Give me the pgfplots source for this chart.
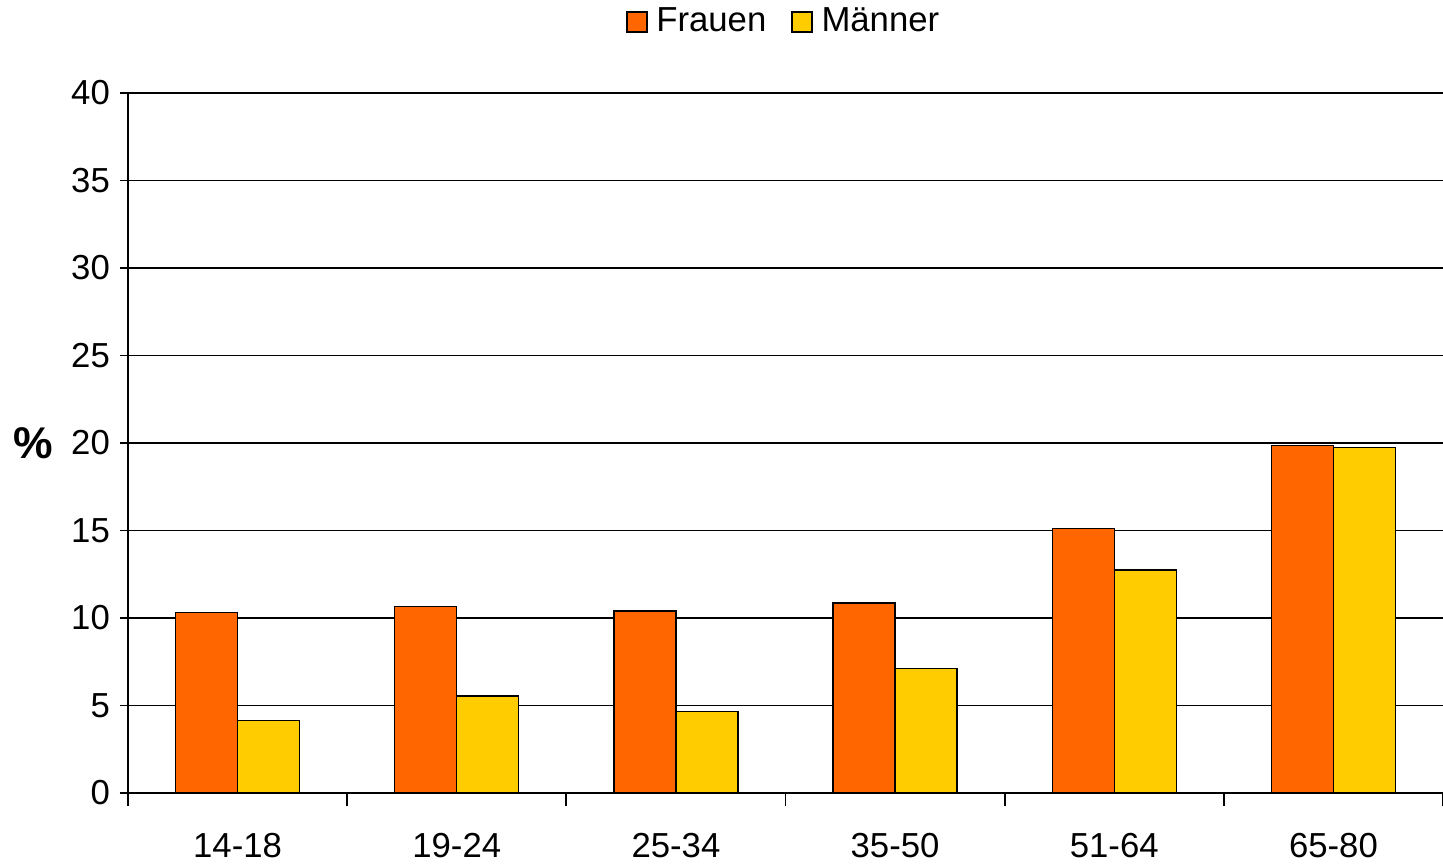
\documentclass[border=0pt]{standalone}
\usepackage{pgfplots}
\pgfplotsset{compat=1.18}
\usepackage{fontspec}
\setmainfont{Liberation Sans}
\definecolor{frauen}{HTML}{FF6600}
\definecolor{maenner}{HTML}{FFCC00}
\begin{document}
\begin{tikzpicture}
\begin{axis}[
  name=ax,
  scale only axis,
  width=473.4pt, height=252pt,
  xmin=-0.5, xmax=5.5, ymin=0, ymax=40,
  ybar=0pt, bar width=0.283,
  axis lines*=left,
  axis line style={line width=0.7pt, black},
  tick align=outside,
  xtick={0,...,5},
  xticklabels={14-18,19-24,25-34,35-50,51-64,65-80},
  major x tick style={draw=none},
  minor xtick={-0.5,0.5,...,5.5},
  minor tick length=4.7pt,
  major tick length=3pt,
  tick style={black, line width=0.7pt},
  ytick={0,5,...,40},
  ymajorgrids,
  grid style={black, line width=0.6pt},
  /pgf/number format/assume math mode=true,
  ticklabel style={font=\fontsize{12.5}{15}\selectfont},
  xticklabel style={yshift=-8pt},
  ylabel={\textbf{\%}},
  every axis y label/.style={at={(rel axis cs:0,0.5)}, anchor=center, xshift=-34.2pt, font=\fontsize{16}{18}\selectfont},
  legend columns=2,
  legend style={draw=none, at={(0.5,1)}, anchor=center, yshift=25.6pt,
    font=\fontsize{12.5}{15}\selectfont,
    /tikz/every even column/.append style={column sep=7pt}},
  legend image code/.code={\draw[#1, draw=black, line width=0.5pt] (0pt,-3.6pt) rectangle (7.2pt,3.6pt); \path[draw=none, fill=none] (7.2pt,0pt) -- (8.6pt,0pt);},
  every axis plot/.append style={draw=black, line width=0.5pt},
]
\addplot[fill=frauen] coordinates {(0,10.3) (1,10.65) (2,10.4) (3,10.85) (4,15.1) (5,19.85)};
\addplot[fill=maenner] coordinates {(0,4.15) (1,5.55) (2,4.65) (3,7.1) (4,12.75) (5,19.75)};
\legend{Frauen, Männer}
\end{axis}
\pgfresetboundingbox
\path ([xshift=-46.08pt, yshift=-25.2pt]ax.south west) rectangle ([yshift=33.48pt]ax.north east);
\end{tikzpicture}
\end{document}
